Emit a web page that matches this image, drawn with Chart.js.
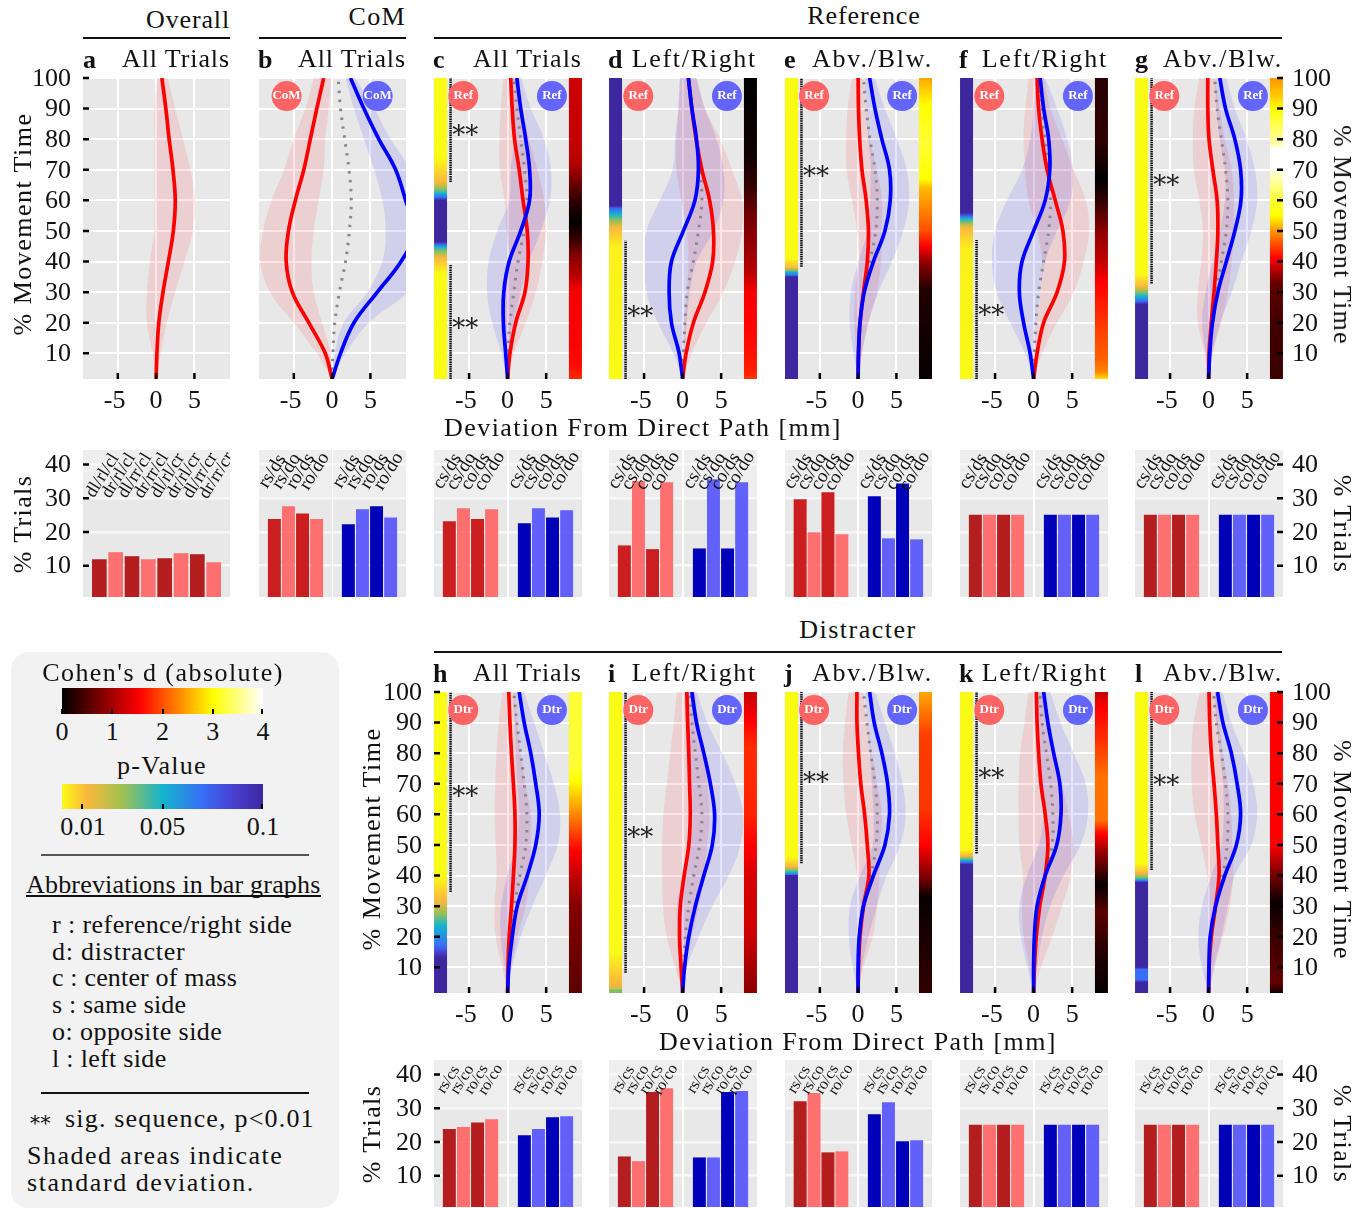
<!DOCTYPE html>
<html>
<head>
<meta charset="utf-8">
<script src="https://cdn.jsdelivr.net/npm/chart.js@4/dist/chart.umd.js"></script>
<style>
  html, body { margin: 0; background: #fff; }
  body { position: relative; width: 1369px; height: 1208px; overflow: hidden; font-family: "Liberation Serif", serif; color: #111; }
  canvas { position: absolute; }
  .t { position: absolute; white-space: pre; line-height: 1; }
  .r { position: absolute; }
</style>
</head>
<body>
<script>
// ── Data, every curve runs top (100 %) to bottom ──
const times  = [100, 90, 80, 70, 60, 50, 40, 30, 20, 10, 1.6];
const yTicks = [10, 20, 30, 40, 50, 60, 70, 80, 90, 100];
const xTicks = [-5, 0, 5];
const barTicks = [10, 20, 30, 40];

const aRed   = [.75, 1.27, 1.7, 2.2, 2.5, 2.25, 1.6, .9, .35, .1, 0];
const aRedLo = [.1, -.2, -.2, -.2, -.2, -.25, -.8, -1.2, -1.2, -.45, 0];
const aRedHi = [1.5, 2.5, 3.5, 4.5, 5.05, 4.8, 3.7, 2.5, 1.4, .6, 0];

const bRed    = [-1.1, -2, -2.85, -3.7, -4.8, -5.7, -6, -5.2, -3.05, -.9, 0];
const bRedLo  = [-2.4, -3.5, -5, -6.3, -7.9, -9, -9.4, -8.1, -5, -2, 0];
const bRedHi  = [-.15, -.45, -.9, -1.1, -1.75, -2.4, -2.7, -2.4, -1.3, -.2, 0];
const bBlue   = [2.4, 4.15, 6.1, 8.3, 9.6, 10.8, 9, 5.9, 2.85, 1.1, 0];
const bBlueLo = [1.75, 2.85, 4.15, 5.5, 6.55, 7, 6.55, 4.6, 1.5, .35, 0];
const bBlueHi = [3, 5.5, 7.65, 10.3, 12.4, 14, 13.2, 10, 4.8, 1.75, 0];
const bMean   = [.8, 1.1, 1.65, 2.2, 2.5, 2.25, 1.75, .95, .35, .1, 0];

const cRed    = [.4, .6, .9, 1.5, 2, 2.55, 2.65, 2.25, 1.05, .3, 0];
const cRedLo  = [-.55, -.9, -1.05, -1, -.4, -.15, .2, -.4, -.7, -.3, 0];
const cRedHi  = [1.35, 1.9, 2.8, 3.85, 4.75, 5, 4.5, 3.65, 2.35, .8, 0];
const cBlue   = [1.2, 1.7, 2.35, 2.85, 2.85, 1.7, .2, -.5, -.55, -.25, 0];
const cBlueLo = [.4, .6, .8, .4, .2, -1.35, -2.45, -2.65, -2, -.8, 0];
const cBlueHi = [1.8, 3, 4.75, 5.6, 5.5, 4.3, 2.8, 1.7, .8, .2, 0];
const cMean   = [.8, 1.2, 1.7, 2.2, 2.5, 2.1, 1.35, .8, .3, .05, 0];

const dRed    = [.75, 1.2, 1.75, 2.5, 3.5, 4, 3.9, 2.9, 1.4, .45, 0];
const dRedLo  = [-.35, -.55, -.8, -.8, -.15, .5, .75, .5, .2, 0, 0];
const dRedHi  = [1.8, 2.9, 4.85, 6.4, 7.7, 7.7, 6.8, 5.3, 3.1, 1.2, 0];
const dBlue   = [.75, 1.2, 1.8, 2.05, 1.6, .1, -1.45, -1.75, -1.45, -.45, 0];
const dBlueLo = [-.35, -.55, -1, -1.3, -2.95, -4.7, -4.9, -4.7, -3.2, -1.2, 0];
const dBlueHi = [1.8, 2.9, 4.4, 5.3, 5.3, 4, 1.8, .95, .5, .2, 0];
const dMean   = [.75, 1.2, 1.8, 2.25, 2.5, 2.05, 1.4, .6, .3, .1, 0];

const eRed    = [0, .05, .2, .5, 1.05, 1.35, 1.2, .7, .25, .05, 0];
const eRedLo  = [-.8, -1.35, -1.55, -1.5, -.8, -.15, .05, -.4, -.5, -.25, 0];
const eRedHi  = [.7, 1.05, 1.55, 2.45, 3.1, 3.1, 3, 2.45, 1.35, .5, 0];
const eBlue   = [1.5, 2.2, 3.1, 4.1, 4.2, 3.5, 2, .8, .25, .05, 0];
const eBlueLo = [.8, 1.05, 1.35, 1.65, 1.55, 1.2, .05, -.95, -1.1, -.6, 0];
const eBlueHi = [2.2, 3.5, 5.05, 6.35, 6.65, 5.9, 4.4, 2.65, 1.35, .5, 0];
const eMean   = [.7, 1.05, 1.55, 2.2, 2.5, 2.3, 1.55, .7, .25, .05, 0];

const fRed    = [.45, .65, 1.1, 1.75, 2.8, 3.8, 4, 3.05, 1.3, .45, 0];
const fRedLo  = [-.65, -1.1, -1.3, -1.1, -.65, .45, 1.1, .85, .45, .1, 0];
const fRedHi  = [1.3, 2.2, 3.7, 5.2, 6.75, 7.2, 6.5, 5.2, 3.05, 1.1, 0];
const fBlue   = [.85, 1.3, 1.95, 2.1, 1.5, 0, -1.5, -1.85, -1.3, -.45, 0];
const fBlueLo = [.2, 0, -.45, -1.5, -3.45, -5, -5.4, -4.8, -3.05, -1.1, 0];
const fBlueHi = [1.5, 3.05, 4.35, 5.1, 4.8, 3.05, 1.5, .85, .45, .15, 0];
const fMean   = [.65, 1.1, 1.5, 1.95, 2.2, 1.95, 1.3, .65, .3, .1, 0];

const gRed    = [-.1, -.1, .05, .55, 1.1, 1.2, 1, .7, .35, .05, 0];
const gRedLo  = [-1.2, -1.85, -2.05, -1.9, -1.2, -.75, -.95, -1.4, -1.4, -.5, 0];
const gRedHi  = [.8, 1.45, 2.1, 3, 3.3, 3.2, 3, 2.5, 1.65, .55, 0];
const gBlue   = [1.45, 2.2, 3.4, 4.15, 4.2, 3.4, 2.3, 1.2, .5, .15, 0];
const gBlueLo = [.8, 1, 1.45, 2.1, 2.1, 1.5, .55, -.4, -.85, -.4, 0];
const gBlueHi = [2.3, 3.4, 4.9, 6, 6.3, 5.55, 4.25, 3, 1.5, .5, 0];
const gMean   = [.8, 1.1, 1.65, 2.2, 2.5, 2.3, 1.65, 1, .35, .15, 0];

const hRed    = [.15, .3, .5, .75, .95, .95, .75, .5, .2, .05, 0];
const hRedLo  = [-.7, -1.15, -1.45, -1.6, -1.7, -1.55, -1.45, -1.7, -1.55, -.7, 0];
const hRedHi  = [.9, 1.25, 1.7, 2.35, 3, 3, 2.8, 2.35, 1.25, .4, 0];
const hBlue   = [1.5, 2.15, 3, 3.65, 4.1, 3.65, 2.55, 1.25, .6, .15, 0];
const hBlueLo = [.8, .9, 1.05, 1.25, 1.5, 1.05, -.05, -.85, -.9, -.4, 0];
const hBlueHi = [2.15, 3.45, 4.75, 6, 6.8, 6.5, 4.95, 3.2, 1.7, .6, 0];
const hMean   = [.8, 1.2, 1.7, 2.15, 2.5, 2.35, 1.6, .9, .4, .05, 0];

const iRed    = [.55, .65, .8, .9, 1, .8, .2, -.3, -.4, -.2, 0];
const iRedLo  = [-.75, -1.15, -1.6, -2.05, -2.5, -2.65, -2.65, -2.55, -2.05, -.95, 0];
const iRedHi  = [1.65, 2.1, 2.75, 3.2, 3.5, 3.2, 2.75, 2.1, 1.2, .35, 0];
const iBlue   = [1.2, 1.8, 2.75, 3.6, 4.15, 3.85, 2.75, 1.65, .8, .25, 0];
const iBlueLo = [.8, .8, 1, 1.2, 1.35, 1, .15, -.75, -.5, -.2, 0];
const iBlueHi = [1.85, 3.2, 5.15, 6.85, 7.85, 7.5, 6, 3.85, 2.1, .55, 0];
const iMean   = [.9, 1.2, 1.65, 2.1, 2.5, 2.2, 1.45, .8, .35, .15, 0];

const jRed    = [-.15, -.15, .05, .35, .85, 1.2, 1.4, .7, .25, .05, 0];
const jRedLo  = [-1.25, -1.7, -2, -1.9, -1.55, -.85, -.1, .25, .05, -.1, 0];
const jRedHi  = [.7, 1.15, 1.8, 2.5, 3.1, 2.95, 2.8, 2.5, 1.9, .7, 0];
const jBlue   = [1.5, 2.1, 3.1, 3.85, 4.1, 3.5, 2, .7, .15, 0, 0];
const jBlueLo = [.9, 1.15, 1.55, 1.8, 2, 1.9, .25, -1.05, -1.2, -.7, 0];
const jBlueHi = [2.2, 3.5, 4.8, 5.8, 6.2, 5.5, 3.75, 2.45, 1.35, .5, 0];
const jMean   = [.7, 1.15, 1.65, 2.2, 2.5, 2.35, 1.65, .6, .15, 0, 0];

const kRed    = [.35, .45, .65, .95, 1.5, 1.85, 1.5, .8, .35, .1, 0];
const kRedLo  = [-.65, -1.2, -1.75, -1.95, -1.95, -1.85, -1.4, -1.5, -1.3, -.5, 0];
const kRedHi  = [1.1, 1.95, 2.8, 3.7, 4.55, 5.15, 4.8, 3.7, 2.4, .95, 0];
const kBlue   = [1.3, 1.85, 2.6, 3.4, 3.55, 3, 1.5, .45, .1, 0, 0];
const kBlueLo = [.45, .65, .85, 1.1, 1.3, .65, -.85, -1.85, -1.65, -.8, 0];
const kBlueHi = [2.15, 3.5, 5.2, 6.75, 7.05, 6.1, 3.9, 2.15, 1.1, .45, 0];
const kMean   = [.8, 1.1, 1.65, 2.2, 2.5, 2.4, 1.5, .65, .2, .1, 0];

const lRed    = [.05, .15, .35, .7, 1, 1.2, 1.35, .9, .35, .05, 0];
const lRedLo  = [-1.15, -1.95, -2.2, -2.2, -1.8, -.95, -.2, .05, -.05, -.2, 0];
const lRedHi  = [1, 1.45, 1.85, 2.5, 2.95, 3.1, 3.2, 2.75, 1.85, .8, 0];
const lBlue   = [1.15, 1.85, 2.95, 3.7, 4.15, 3.6, 2.1, .9, .2, .05, 0];
const lBlueLo = [.8, 1, 1.45, 1.85, 1.95, 1.65, .35, -.85, -1.35, -.85, 0];
const lBlueHi = [1.8, 2.95, 4.5, 5.8, 6.3, 5.55, 3.4, 2.5, 1.65, .65, 0];
const lMean   = [.65, 1, 1.65, 2.2, 2.5, 2.4, 1.85, 1, .35, .05, 0];

// strips: [% movement time, value], p-value on the left, Cohen's d on the right
const cP = [[100,0],[74,0],[66,.012],[63,.04],[61,.07],[60,.1],[46.5,.1],[45.5,.07],[44.5,.045],[41,.012],[36,0],[1.6,0]];
const dP = [[100,.1],[58.2,.1],[57.5,.075],[55.5,.05],[51,.012],[45,.002],[1.6,0]];
const eP = [[100,0],[41,0],[38,.012],[36.5,.05],[35.5,.07],[35,.1],[1.6,.1]];
const fP = [[100,.1],[56,.1],[54,.05],[51,.012],[44,.002],[1.6,0]];
const gP = [[100,0],[36,0],[32,.012],[29,.045],[27,.07],[26,.1],[1.6,.1]];
const hP = [[100,0],[40,0],[32,.012],[28,.03],[23.5,.05],[17,.07],[13,.1],[1.6,.1]];
const iP = [[100,0],[15,0],[5,.012],[3,.02],[2.6,.035],[1.6,.035]];
const jP = [[100,0],[46,0],[43,.012],[41,.05],[40.3,.07],[40,.1],[1.6,.1]];
const kP = [[100,0],[48.5,0],[46.5,.012],[45,.05],[44,.08],[43.6,.1],[1.6,.1]];
const lP = [[100,0],[44,0],[41,.012],[39.3,.035],[38.5,.06],[37.7,.1],[10,.1],[9.3,.07],[6,.07],[5,.1],[1.6,.1]];

const cD = [[100,1.25],[80,1.2],[72,1.1],[65,.6],[60,.3],[53,0],[47,.35],[42,.8],[36,1.1],[30,1.5],[15,1.55],[6,1.6],[1.6,1.8]];
const dD = [[100,0],[75,.1],[65,.3],[55,.7],[45,.9],[37,1.1],[30,1.5],[15,1.6],[5,1.7],[1.6,1.85]];
const eD = [[100,2.5],[91,3],[79,3.2],[67,3],[64,2.6],[50,2],[45,1.55],[40,.9],[31,.2],[15,.1],[1.6,.05]];
const fD = [[100,.25],[80,.3],[67,0],[60,.3],[50,.85],[40,1.2],[33,1.55],[18,1.9],[8,2.1],[4,2.3],[1.6,2.8]];
const gD = [[100,2.4],[94,2.7],[90,3],[78,3.7],[77,4],[70,4],[69,3.8],[60,3.2],[55,3],[50,2.4],[41,1.55],[33,.6],[20,.4],[1.6,.35]];
const hD = [[100,3.2],[76,3.2],[71,3],[63,2.5],[55,2],[48,1.55],[38,1.1],[30,.8],[1.6,.55]];
const iD = [[100,1.2],[92,1.5],[82,1.8],[60,1.75],[50,1.55],[39,1.3],[21,1.25],[10,1],[1.6,.85]];
const jD = [[100,2.5],[93,2.2],[86,1.9],[62,1.85],[50,1.55],[40,.8],[33,.05],[20,.15],[1.6,.3]];
const kD = [[100,1.2],[95,1.55],[85,1.8],[72,2.2],[58,2.2],[54,1.6],[47.5,.9],[37,.05],[28,.55],[14,.2],[1.6,.05]];
const lD = [[100,1.55],[50,1.55],[46,1.2],[40,.7],[31,.05],[20,.35],[5,.6],[3,.3],[1.6,.1]];

// significant sequences [from, to] and where the stars sit
const cSig = [[66, 100], [1.6, 38.9]], cStars = [83, 19.8];
const dSig = [[1.6, 46.8]], dStars = [23.6];
const eSig = [[38.3, 100]], eStars = [69.4];
const fSig = [[1.6, 47]], fStars = [24];
const gSig = [[32.8, 100]], gStars = [66.7];
const hSig = [[34.6, 100]], hStars = [67.4];
const iSig = [[8.2, 100]], iStars = [54.2];
const jSig = [[44, 100]], jStars = [72.2];
const kSig = [[47.2, 100]], kStars = [73.6];
const lSig = [[41.8, 100]], lStars = [71];

// % trials bars
const aBars = [11.8, 13.9, 12.7, 11.8, 12.1, 13.6, 13.3, 10.9];
const bBarsRed = [23.7, 27.5, 25.4, 23.7], bBarsBlue = [22.2, 26.6, 27.5, 24.2];
const cBarsRed = [23.1, 26.9, 23.7, 26.6], cBarsBlue = [22.5, 26.9, 24.2, 26.3];
const dBarsRed = [15.9, 34.9, 14.8, 34.6], dBarsBlue = [15, 35.5, 15, 34.6];
const eBarsRed = [29.6, 19.8, 31.7, 19.2], eBarsBlue = [30.5, 18, 34.3, 17.7];
const fBarsRed = [25, 25, 25, 25], fBarsBlue = [25, 25, 25, 25];
const gBarsRed = [25, 25, 25, 25], gBarsBlue = [25, 25, 25, 25];
const hBarsRed = [23.7, 24.3, 25.7, 26.6], hBarsBlue = [21.9, 23.7, 27.2, 27.5];
const iBarsRed = [15.6, 14.2, 34.7, 35.8], iBarsBlue = [15.3, 15.3, 34.7, 35];
const jBarsRed = [32, 34.4, 16.8, 17.1], jBarsBlue = [28.1, 31.7, 20.1, 20.4];
const kBarsRed = [25, 25, 25, 25], kBarsBlue = [25, 25, 25, 25];
const lBarsRed = [25, 25, 25, 25], lBarsBlue = [25, 25, 25, 25];

const overallLabels = ['dl/rl/cl', 'dr/rl/cl', 'dl/rr/cl', 'dr/rr/cl', 'dl/rl/cr', 'dr/rl/cr', 'dl/rr/cr', 'dr/rr/cr'];
const comLabels  = ['rs/ds', 'rs/do', 'ro/ds', 'ro/do'];
const refLabels  = ['cs/ds', 'cs/do', 'co/ds', 'co/do'];
const dtrLabels  = ['rs/cs', 'rs/co', 'ro/cs', 'ro/co'];

// ── Colour maps ──
const hotStops    = [[0, [0, 0, 0]], [1.55, [255, 0, 0]], [3, [255, 255, 0]], [4, [255, 255, 255]]];
const parulaStops = [[0, [249, 251, 20]], [.012, [253, 184, 60]], [.03, [160, 192, 80]], [.05, [20, 180, 205]], [.07, [55, 110, 245]], [.085, [72, 64, 208]], [.1, [60, 39, 158]]];

function colorAt(stops, v) {
  for (let i = 1; i < stops.length; i++) {
    if (v <= stops[i][0]) {
      const [a, ca] = stops[i - 1], [b, cb] = stops[i];
      const f = Math.max(0, (v - a) / (b - a));
      return `rgb(${ca.map((c, k) => Math.round(c + (cb[k] - c) * f)).join(',')})`;
    }
  }
  return `rgb(${stops[stops.length - 1][1].join(',')})`;
}

// ── Chart helpers ──
Chart.defaults.font.family = '"Liberation Serif", serif';
Chart.defaults.font.size = 26;
Chart.defaults.color = '#111';
Chart.defaults.animation = false;
Chart.defaults.events = [];

const xMin = -9.55, xMax = 9.65;
const stripLeft = -8.7, stripRight = 8.8, sigX = -7.4, starX = -5.5, badgeX = 5.75, badgeT = 94.1;

function stripGradient(chart, stops, map) {
  // first resolve happens before layout, scales have no pixels yet
  if (!chart.chartArea) return '#000';
  const y = chart.scales.y;
  const top = y.getPixelForValue(100), bottom = y.getPixelForValue(1.6);
  const g = chart.ctx.createLinearGradient(0, top, 0, bottom);
  stops.forEach((s, i) => {
    const next = stops[i + 1];
    if (!next) return;
    for (let k = 0; k <= 8; k++) {
      const t = s[0] + (next[0] - s[0]) * k / 8, v = s[1] + (next[1] - s[1]) * k / 8;
      const pos = (y.getPixelForValue(t) - top) / (bottom - top);
      g.addColorStop(Math.min(1, Math.max(0, pos)), colorAt(map, v));
    }
  });
  return g;
}

const points = xs => times.map((t, i) => ({ x: xs[i], y: t })).reverse();

const background = (bandFrom) => ({
  id: 'background',
  beforeDraw(chart) {
    const { ctx, chartArea: a, scales } = chart;
    ctx.save();
    ctx.fillStyle = '#e8e8e8';
    ctx.fillRect(a.left, a.top, a.width, a.height);
    if (bandFrom) {
      ctx.fillStyle = '#eeeeee';
      ctx.fillRect(a.left, a.top, a.width, scales.y.getPixelForValue(bandFrom) - a.top);
    }
    ctx.restore();
  },
});

// ticks sit inside the plot in the reference
const insideTicks = (side, showX) => ({
  id: 'insideTicks',
  afterDatasetsDraw(chart) {
    const { ctx, chartArea: a, scales } = chart;
    ctx.save();
    ctx.strokeStyle = '#000';
    ctx.lineWidth = 2.5;
    ctx.beginPath();
    if (side) {
      scales.y.ticks.forEach(t => {
        const y = scales.y.getPixelForValue(t.value);
        const x0 = side === 'left' ? a.left : a.right - 6;
        ctx.moveTo(x0, y);
        ctx.lineTo(x0 + 6, y);
      });
    }
    if (showX) {
      scales.x.ticks.forEach(t => {
        const x = scales.x.getPixelForValue(t.value);
        ctx.moveTo(x, a.bottom);
        ctx.lineTo(x, a.bottom - 6);
      });
    }
    ctx.stroke();
    ctx.restore();
  },
});

const marks = (p) => ({
  id: 'marks',
  afterDraw(chart) {
    const { ctx, scales } = chart;
    ctx.save();
    ctx.textAlign = 'center';
    ctx.textBaseline = 'middle';
    if (p.badge) {
      ctx.fillStyle = '#fff';
      ctx.font = 'bold 13px "Liberation Serif"';
      [-p.bx, p.bx].forEach(x => ctx.fillText(p.badge, scales.x.getPixelForValue(x), scales.y.getPixelForValue(badgeT)));
    }
    (p.stars || []).forEach(t => {
      ctx.fillStyle = '#222';
      ctx.font = '26px "DejaVu Serif"';
      ctx.fillText('**', scales.x.getPixelForValue(starX), scales.y.getPixelForValue(t) + 7);
    });
    ctx.restore();
  },
});

function addCanvas(left, top, w, h) {
  const c = document.createElement('canvas');
  c.width = w; c.height = h;
  c.style.left = left + 'px';
  c.style.top = top + 'px';
  c.style.width = w + 'px';
  c.style.height = h + 'px';
  document.body.appendChild(c);
  return c;
}

// chart.js adds half a label plus the tick padding as margin, the layout here is fixed
const noMargins = s => { s.paddingTop = s.paddingBottom = s.paddingLeft = s.paddingRight = 0; };

function trajChart(p) {
  const side = p.side || null;
  const ml = side === 'left' ? 56 : 0, mr = side === 'right' ? 56 : 0;
  const mt = 14, mb = 40;
  const canvas = addCanvas(p.left - ml, p.top - mt, p.w + ml + mr, 301 + mt + mb);

  const datasets = [];
  const thin = { borderWidth: 0, borderColor: 'transparent' };
  const curve = (data, color, width, order, extra) =>
    datasets.push({ data: points(data), borderColor: color, borderWidth: width, order, tension: .37, ...extra });

  curve(p.redLo, 'transparent', 0, 7, { fill: '+1', backgroundColor: 'rgba(255,0,0,.1)', ...thin });
  curve(p.redHi, 'transparent', 0, 7, thin);
  if (p.blue) {
    curve(p.blueLo, 'transparent', 0, 6, { fill: '+1', backgroundColor: 'rgba(0,0,255,.1)', ...thin });
    curve(p.blueHi, 'transparent', 0, 6, thin);
    curve(p.mean, '#888', 3, 5, { borderDash: [2.5, 6.5] });
  }
  curve(p.red, '#ff0000', 3.7, 4);
  if (p.blue) curve(p.blue, '#0000ff', 3.7, 3);

  if (p.pStrip) {
    datasets.push({ data: [{ x: stripLeft, y: 1.6 }, { x: stripLeft, y: 100 }], borderWidth: 13, order: 1,
      borderColor: c => stripGradient(c.chart, p.pStrip, parulaStops) });
    datasets.push({ data: [{ x: stripRight, y: 1.6 }, { x: stripRight, y: 100 }], borderWidth: 13, order: 1,
      borderColor: c => stripGradient(c.chart, p.dStrip, hotStops) });
    p.sig.forEach(s => datasets.push({ data: [{ x: sigX, y: s[0] }, { x: sigX, y: s[1] }], borderColor: '#000', borderWidth: 2.5, borderDash: [1.5, .8], order: 2 }));
  }
  if (p.badge) {
    datasets.push({ data: [{ x: -p.bx, y: badgeT }], showLine: false, pointRadius: 15, pointBackgroundColor: '#ff6464', pointBorderWidth: 0, order: 0 });
    datasets.push({ data: [{ x: p.bx, y: badgeT }], showLine: false, pointRadius: 15, pointBackgroundColor: '#6464ff', pointBorderWidth: 0, order: 0 });
  }

  new Chart(canvas, {
    type: 'line',
    data: { datasets },
    plugins: [background(), insideTicks(side, true), marks({ badge: p.badge, bx: p.bx, stars: p.stars })],
    options: {
      responsive: false,
      indexAxis: 'y',
      elements: { point: { radius: 0 }, line: { borderCapStyle: 'butt' } },
      layout: { autoPadding: false, padding: { top: mt, left: 0, right: 0, bottom: 0 } },
      plugins: { legend: { display: false }, tooltip: { enabled: false } },
      scales: {
        x: {
          type: 'linear', min: xMin, max: xMax,
          afterBuildTicks: s => { s.ticks = xTicks.map(value => ({ value })); },
          afterFit: s => { s.height = mb; noMargins(s); },
          grid: { color: '#ffffff', lineWidth: 2, drawTicks: false },
          border: { display: false },
          // trailing space nudges the negative label left, as in the reference
          ticks: { padding: 9, maxRotation: 0, autoSkip: false, color: '#111', font: { lineHeight: 1 }, callback: v => (v < 0 ? v + ' ' : String(v)) },
        },
        y: {
          type: 'linear', min: 1.6, max: 100, position: side || 'left',
          afterBuildTicks: s => { s.ticks = yTicks.map(value => ({ value })); },
          afterFit: s => { s.width = side ? 56 : 0; noMargins(s); },
          grid: { color: '#ffffff', lineWidth: 2, drawTicks: false },
          border: { display: false },
          ticks: { display: !!side, padding: side === 'right' ? 9 : 12, labelOffset: 1, autoSkip: false, color: '#111', font: { lineHeight: 1 } },
        },
      },
    },
  });
}

function barFacet(f) {
  const side = f.side || null;
  const ml = side === 'left' ? 56 : 0, mr = side === 'right' ? 56 : 0;
  const mt = 4, h = 147;
  const canvas = addCanvas(f.left - ml, f.top - mt, f.w + ml + mr, h + mt + 2);
  const n = f.values.length;
  const pad = n === 8 ? 0 : .09;

  const labelPlugin = {
    id: 'barLabels',
    afterDatasetsDraw(chart) {
      const { ctx, scales } = chart;
      ctx.save();
      ctx.fillStyle = '#111';
      ctx.font = `${f.labelSize}px "Liberation Serif"`;
      ctx.textAlign = 'center';
      ctx.textBaseline = 'middle';
      f.labels.forEach((txt, i) => {
        ctx.save();
        ctx.translate(scales.x.getPixelForValue(i + 1) + f.labelDx, scales.y.getPixelForValue(f.labelAt));
        ctx.rotate(-58 * Math.PI / 180);
        ctx.fillText(txt, 0, 0);
        ctx.restore();
      });
      ctx.restore();
    },
  };

  new Chart(canvas, {
    type: 'bar',
    data: {
      datasets: [{
        data: f.values.map((v, i) => ({ x: i + 1, y: v })),
        backgroundColor: f.values.map((v, i) => f.colors[i % 2]),
        barThickness: f.bar,
      }],
    },
    plugins: [background(30.4), insideTicks(side, false), labelPlugin],
    options: {
      responsive: false,
      layout: { autoPadding: false, padding: { top: mt, bottom: 2 } },
      plugins: { legend: { display: false }, tooltip: { enabled: false } },
      scales: {
        x: { type: 'linear', display: false, offset: false, min: -pad, max: n + 1 + pad },
        y: {
          type: 'linear', min: .7, max: 44.3, position: side || 'left',
          afterBuildTicks: s => { s.ticks = barTicks.map(value => ({ value })); },
          afterFit: s => { s.width = side ? 56 : 0; noMargins(s); },
          grid: { color: '#f7f7f7', lineWidth: 2.5, drawTicks: false },
          border: { display: false },
          ticks: { display: !!side, padding: side === 'right' ? 9 : 12, labelOffset: 1, autoSkip: false, color: '#111', font: { lineHeight: 1 } },
        },
      },
    },
  });
}

function label(text, x, y, o = {}) {
  const el = document.createElement('div');
  el.className = 't';
  el.textContent = text;
  el.style.fontSize = (o.size || 26) + 'px';
  if (o.bold) el.style.fontWeight = 'bold';
  if (o.family) el.style.fontFamily = o.family;
  el.style.left = x + 'px';
  el.style.top = y + 'px';
  document.body.appendChild(el);
  if (o.w) el.style.letterSpacing = ((o.w - el.offsetWidth) / text.length) + 'px';
  const ax = { l: '0', c: '-50%', r: '-100%' }[o.align || 'l'];
  el.style.transform = `translate(${ax}, -50%)` + (o.rot ? ` rotate(${o.rot}deg)` : '');
  return el;
}

function rule(x, y, w, h, color) {
  const el = document.createElement('div');
  el.className = 'r';
  el.style.cssText = `left:${x}px;top:${y}px;width:${w}px;height:${h}px;background:${color}`;
  document.body.appendChild(el);
  return el;
}

// ── Legend box goes underneath everything else ──
const box = rule(11, 652, 328, 556, '#f2f2f2');
box.style.borderRadius = '18px';

// ── Trajectory panels ──
const top1 = 78, top2 = 692;
trajChart({ left: 83, top: top1, w: 147, side: 'left', red: aRed, redLo: aRedLo, redHi: aRedHi });
trajChart({ left: 259, top: top1, w: 147, red: bRed, redLo: bRedLo, redHi: bRedHi, blue: bBlue, blueLo: bBlueLo, blueHi: bBlueHi, mean: bMean, badge: 'CoM', bx: 5.95 });
const ref = p => trajChart({ top: top1, badge: 'Ref', bx: badgeX, ...p });
const dtr = p => trajChart({ top: top2, badge: 'Dtr', bx: badgeX, ...p });
ref({ left: 434, w: 148, red: cRed, redLo: cRedLo, redHi: cRedHi, blue: cBlue, blueLo: cBlueLo, blueHi: cBlueHi, mean: cMean, pStrip: cP, dStrip: cD, sig: cSig, stars: cStars });
ref({ left: 609, w: 148, red: dRed, redLo: dRedLo, redHi: dRedHi, blue: dBlue, blueLo: dBlueLo, blueHi: dBlueHi, mean: dMean, pStrip: dP, dStrip: dD, sig: dSig, stars: dStars });
ref({ left: 785, w: 147, red: eRed, redLo: eRedLo, redHi: eRedHi, blue: eBlue, blueLo: eBlueLo, blueHi: eBlueHi, mean: eMean, pStrip: eP, dStrip: eD, sig: eSig, stars: eStars });
ref({ left: 960, w: 148, red: fRed, redLo: fRedLo, redHi: fRedHi, blue: fBlue, blueLo: fBlueLo, blueHi: fBlueHi, mean: fMean, pStrip: fP, dStrip: fD, sig: fSig, stars: fStars });
ref({ left: 1135, w: 148, side: 'right', red: gRed, redLo: gRedLo, redHi: gRedHi, blue: gBlue, blueLo: gBlueLo, blueHi: gBlueHi, mean: gMean, pStrip: gP, dStrip: gD, sig: gSig, stars: gStars });
dtr({ left: 434, w: 148, side: 'left', red: hRed, redLo: hRedLo, redHi: hRedHi, blue: hBlue, blueLo: hBlueLo, blueHi: hBlueHi, mean: hMean, pStrip: hP, dStrip: hD, sig: hSig, stars: hStars });
dtr({ left: 609, w: 148, red: iRed, redLo: iRedLo, redHi: iRedHi, blue: iBlue, blueLo: iBlueLo, blueHi: iBlueHi, mean: iMean, pStrip: iP, dStrip: iD, sig: iSig, stars: iStars });
dtr({ left: 785, w: 147, red: jRed, redLo: jRedLo, redHi: jRedHi, blue: jBlue, blueLo: jBlueLo, blueHi: jBlueHi, mean: jMean, pStrip: jP, dStrip: jD, sig: jSig, stars: jStars });
dtr({ left: 960, w: 148, red: kRed, redLo: kRedLo, redHi: kRedHi, blue: kBlue, blueLo: kBlueLo, blueHi: kBlueHi, mean: kMean, pStrip: kP, dStrip: kD, sig: kSig, stars: kStars });
dtr({ left: 1135, w: 148, side: 'right', red: lRed, redLo: lRedLo, redHi: lRedHi, blue: lBlue, blueLo: lBlueLo, blueHi: lBlueHi, mean: lMean, pStrip: lP, dStrip: lD, sig: lSig, stars: lStars });

// ── Bar panels ──
const redA  = ['#cb1e1e', 'rgba(255,100,100,.92)'];
const redB  = ['#b51e1e', 'rgba(255,100,100,.92)'];
const blues = ['#0000b8', 'rgba(90,90,250,.95)'];
const rowTop = { top: 450, labelSize: 19, labelDx: -2, labelAt: 38, bar: 12.3 };
const rowLow = { top: 1060, labelSize: 16, labelDx: -1, labelAt: 38.5, bar: 12.3 };

barFacet({ ...rowTop, left: 83, w: 147, side: 'left', values: aBars, colors: redB, labels: overallLabels, labelDx: 3, labelAt: 36.7, labelSize: 18, bar: 14 });
[
  [259, 73, 333, bBarsRed, bBarsBlue, comLabels, redA, null],
  [434, 73, 509, cBarsRed, cBarsBlue, refLabels, redA, null],
  [609, 73, 684, dBarsRed, dBarsBlue, refLabels, redA, null],
  [785, 72, 859, eBarsRed, eBarsBlue, refLabels, redA, null],
  [960, 73, 1035, fBarsRed, fBarsBlue, refLabels, redB, null],
  [1135, 73, 1210, gBarsRed, gBarsBlue, refLabels, redB, 'right'],
].forEach(([l, w, l2, r, b, labels, colors, side]) => {
  barFacet({ ...rowTop, left: l, w, values: r, colors, labels });
  barFacet({ ...rowTop, left: l2, w: 73, values: b, colors: blues, labels, side });
});
[
  [434, 73, 509, hBarsRed, hBarsBlue, 'left', null],
  [609, 73, 684, iBarsRed, iBarsBlue, null, null],
  [785, 72, 859, jBarsRed, jBarsBlue, null, null],
  [960, 73, 1035, kBarsRed, kBarsBlue, null, null],
  [1135, 73, 1210, lBarsRed, lBarsBlue, null, 'right'],
].forEach(([l, w, l2, r, b, sideL, sideR]) => {
  barFacet({ ...rowLow, left: l, w, values: r, colors: redB, labels: dtrLabels, side: sideL });
  barFacet({ ...rowLow, left: l2, w: 73, values: b, colors: blues, labels: dtrLabels, side: sideR });
});

// ── Titles ──
rule(83, 37, 147, 2, '#111'); rule(259, 37, 147, 2, '#111'); rule(434, 37, 848, 2, '#111'); rule(434, 651, 848, 2, '#111');
label('Overall', 230, 20, { align: 'r', w: 84 });
label('CoM', 406, 17, { align: 'r', w: 57 });
label('Reference', 864, 16, { align: 'c', w: 113 });
label('Distracter', 858, 630, { align: 'c', w: 118 });

const heads = [
  ['a', 83, 'All Trials', 230, 108], ['b', 258, 'All Trials', 406, 108], ['c', 433, 'All Trials', 582, 109],
  ['d', 608, 'Left/Right', 757, 125], ['e', 784, 'Abv./Blw.', 933, 121], ['f', 959, 'Left/Right', 1108, 126], ['g', 1135, 'Abv./Blw.', 1283, 120],
];
heads.forEach(([k, x, t, xr, w]) => { label(k, x, 60, { bold: true }); label(t, xr, 59, { align: 'r', w }); });
const heads2 = [
  ['h', 433, 'All Trials', 582, 109], ['i', 608, 'Left/Right', 757, 125], ['j', 784, 'Abv./Blw.', 933, 121], ['k', 959, 'Left/Right', 1108, 126], ['l', 1135, 'Abv./Blw.', 1283, 120],
];
heads2.forEach(([k, x, t, xr, w]) => { label(k, x, 674, { bold: true }); label(t, xr, 673, { align: 'r', w }); });

label('Deviation From Direct Path [mm]', 643, 428, { align: 'c', w: 398 });
label('Deviation From Direct Path [mm]', 858, 1042, { align: 'c', w: 398 });
label('% Movement Time', 23, 224, { align: 'c', w: 223, rot: -90 });
label('% Movement Time', 1342, 235, { align: 'c', w: 220, rot: 90 });
label('% Movement Time', 372, 839, { align: 'c', w: 223, rot: -90 });
label('% Movement Time', 1342, 850, { align: 'c', w: 220, rot: 90 });
label('% Trials', 23, 524, { align: 'c', w: 98, rot: -90 });
label('% Trials', 1342, 524, { align: 'c', w: 98, rot: 90 });
label('% Trials', 372, 1134, { align: 'c', w: 98, rot: -90 });
label('% Trials', 1342, 1134, { align: 'c', w: 98, rot: 90 });

// ── Legend box contents ──
function colorBar(x, y, w, h, stops, lo, hi, ticks) {
  const bar = rule(x, y, w, h, '#000');
  const parts = [];
  for (let i = 0; i <= 40; i++) parts.push(colorAt(stops, lo + (hi - lo) * i / 40));
  bar.style.background = `linear-gradient(to right, ${parts.join(',')})`;
  ticks.forEach(([v, txt, ly]) => {
    const px = x + (v - lo) / (hi - lo) * w;
    rule(Math.min(px - 1, x + w - 2), y + h - 5, 2, 5, '#000');
    label(txt, px + (txt === '0.01' ? 1 : 0), ly, { align: 'c' });
  });
}
label("Cohen's d (absolute)", 163, 673, { align: 'c', w: 242 });
colorBar(62, 688, 201, 26, hotStops, 0, 4, [[0, '0', 732], [1, '1', 732], [2, '2', 732], [3, '3', 732], [4, '4', 732]]);
label('p-Value', 162, 766, { align: 'c', w: 90 });
colorBar(62, 784, 201, 25, parulaStops, 0, .1, [[.01, '0.01', 827], [.05, '0.05', 827], [.1, '0.1', 827]]);
rule(41, 854, 268, 2, '#555');
label('Abbreviations in bar graphs', 26, 885, { w: 295 });
rule(26, 895, 295, 1.5, '#111');
label('r : reference/right side', 52, 925, { w: 240 });
label('d: distracter', 52, 952, { w: 133 });
label('c : center of mass', 52, 978, { w: 185 });
label('s : same side', 52, 1005, { w: 134 });
label('o: opposite side', 52, 1032, { w: 170 });
label('l : left side', 52, 1059, { w: 114 });
rule(41, 1092, 268, 1.5, '#111');
label('**', 30, 1123, { size: 20, family: '"DejaVu Serif"', w: 21 });
label('sig. sequence, p<0.01', 65, 1119, { w: 250 });
label('Shaded areas indicate', 27, 1156, { w: 256 });
label('standard deviation.', 27, 1183, { w: 228 });
</script>
</body>
</html>
